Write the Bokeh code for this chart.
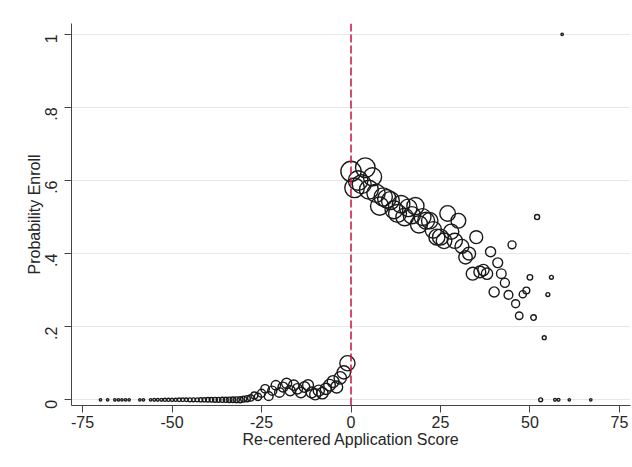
import numpy as np
from bokeh.plotting import figure
from bokeh.models import ColumnDataSource, Span, FixedTicker, CustomJSTickFormatter, Range1d
from bokeh.embed import file_html
from bokeh.resources import INLINE

# ---- data: re-centered score, share enrolled, number of applicants ----
score = [-70, -68, -66, -65, -64, -63, -62, -59, -58,
         -56, -55, -54, -53, -52, -51, -50, -49, -48, -47, -46, -45, -44, -43, -42, -41,
         -40, -39, -38, -37, -36, -35, -34, -33, -32, -31, -30, -29, -28, -27, -26,
         -25, -24, -23, -22, -21, -20, -19, -18, -17, -16, -15, -14, -13, -12, -11,
         -10, -9, -8, -7, -6, -5, -4, -3, -2, -1,
         0, 1, 2, 3, 4, 5, 6, 7, 8, 9, 10, 11, 12, 13, 14, 15, 16, 17, 18, 19,
         20, 21, 22, 23, 24, 25, 26, 27, 28, 29, 30, 31, 32, 33, 34, 35, 36, 37, 38, 39,
         40, 41, 42, 43, 44, 45, 46, 47, 48, 49, 50, 51, 52, 53, 54, 55, 56, 57, 58, 59,
         61, 67]
prob_enroll = [0, 0, 0, 0, 0, 0, 0, 0, 0,
               0, 0, 0, 0, 0, 0, 0, 0, 0, 0, 0, 0, 0, 0, 0, 0,
               0, 0, 0, 0, 0, 0, 0, 0, 0, 0, 0.002, 0.003, 0.005, 0.012, 0.008,
               0.018, 0.03, 0.01, 0.025, 0.04, 0.02, 0.035, 0.045, 0.025, 0.04, 0.03, 0.02, 0.035, 0.04, 0.02,
               0.015, 0.025, 0.018, 0.03, 0.04, 0.05, 0.035, 0.06, 0.075, 0.10,
               0.625, 0.58, 0.60, 0.59, 0.635, 0.575, 0.61, 0.565, 0.53, 0.555,
               0.55, 0.545, 0.52, 0.51, 0.535, 0.50, 0.525, 0.505, 0.53, 0.48,
               0.50, 0.49, 0.49, 0.465, 0.445, 0.445, 0.435, 0.51, 0.46, 0.435,
               0.49, 0.42, 0.39, 0.40, 0.345, 0.445, 0.35, 0.355, 0.345, 0.405,
               0.295, 0.375, 0.345, 0.32, 0.287, 0.424, 0.263, 0.23, 0.289, 0.299,
               0.335, 0.225, 0.50, 0.0, 0.17, 0.288, 0.335, 0.0, 0.0, 1.0,
               0.0, 0.0]
n_applicants = [1, 1, 1, 1, 2, 1, 1, 1, 2,
                2, 3, 3, 3, 4, 4, 4, 4, 5, 5, 5, 6, 6, 6, 7, 7,
                8, 8, 9, 9, 10, 10, 11, 12, 13, 14, 14, 15, 16, 18, 20,
                25, 28, 30, 32, 34, 36, 38, 40, 40, 42, 42, 44, 44, 46, 46,
                48, 48, 50, 50, 52, 54, 56, 60, 70, 90,
                160, 150, 150, 140, 150, 140, 130, 130, 130, 130,
                130, 125, 125, 125, 120, 120, 120, 115, 115, 115,
                110, 110, 105, 105, 100, 100, 95, 95, 90, 90,
                85, 75, 70, 65, 65, 65, 55, 50, 50, 40,
                40, 38, 36, 32, 30, 25, 25, 22, 20, 18,
                12, 12, 10, 6, 6, 6, 6, 3, 3, 2,
                2, 2]

y_ticks = [0, 0.2, 0.4, 0.6, 0.8, 1]
x_ticks = [-75, -50, -25, 0, 25, 50, 75]

FONT = "Liberation Sans"
TXT = "#262626"

size = np.maximum(1.6 * np.sqrt(np.array(n_applicants, dtype=float)), 2.4)
src = ColumnDataSource(dict(x=score, y=prob_enroll, s=size))

p = figure(width=632, height=467, output_backend="svg", toolbar_location=None,
           x_range=Range1d(-78.1, 78.1), y_range=Range1d(-0.0156, 1.0296),
           min_border_left=71, min_border_right=2, min_border_top=23, min_border_bottom=62)
p.outline_line_color = None
p.background_fill_color = "white"
p.border_fill_color = "white"

p.scatter("x", "y", source=src, size="s", marker="circle", fill_color=None,
          line_color="#1a1a1a", line_width=1.4)

p.add_layout(Span(location=0, dimension="height", line_color="#c8103e",
                  line_width=1.5, line_dash="8 3"))

# axes
p.xaxis.ticker = FixedTicker(ticks=x_ticks)
p.yaxis.ticker = FixedTicker(ticks=y_ticks)
p.xaxis.formatter = CustomJSTickFormatter(code="return String(Math.round(tick));")
p.yaxis.formatter = CustomJSTickFormatter(code="""
    if (Math.abs(tick) < 1e-9) return "0";
    if (Math.abs(tick - 1) < 1e-9) return "1";
    return tick.toFixed(1).replace(/^0/, "");
""")
p.yaxis.major_label_orientation = np.pi / 2
p.xaxis.axis_label = "Re-centered Application Score"
p.yaxis.axis_label = "Probability Enroll"
for ax in (p.xaxis, p.yaxis):
    ax.axis_line_color = "#444444"
    ax.major_tick_line_color = "#444444"
    ax.axis_line_width = 1
    ax.major_tick_out = 7
    ax.major_tick_in = 0
    ax.minor_tick_line_color = None
    ax.major_label_text_font = FONT
    ax.major_label_text_font_size = "16px"
    ax.major_label_text_color = TXT
    ax.axis_label_text_font = FONT
    ax.axis_label_text_font_size = "16px"
    ax.axis_label_text_font_style = "normal"
    ax.axis_label_text_color = TXT
p.xaxis.major_label_standoff = 3
p.xaxis.axis_label_standoff = 0
p.yaxis.major_label_standoff = 13
p.yaxis.axis_label_standoff = -6

p.xgrid.grid_line_color = None
p.ygrid.grid_line_color = "#e6e6e6"
p.ygrid.grid_line_width = 1

open("out.html", "w").write(file_html(p, INLINE))
